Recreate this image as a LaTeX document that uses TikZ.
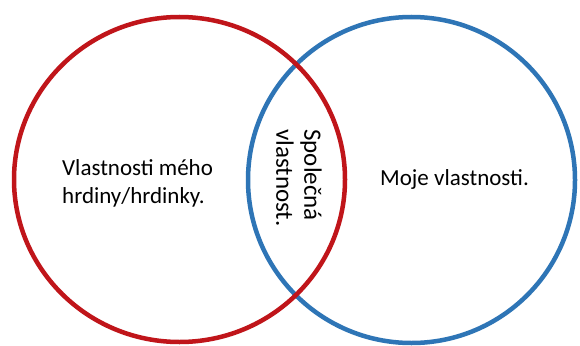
\documentclass[tikz,border=0pt]{standalone}
\usepackage{fontspec}
\setmainfont{Carlito}
\definecolor{vred}{HTML}{C0151A}
\definecolor{vblue}{HTML}{2E75B6}
\begin{document}
\begin{tikzpicture}[x=1pt,y=-1pt,
  ring/.style={line width=4.5pt},
  lbl/.style={font=\fontsize{23}{28}\selectfont, inner sep=0pt, text=black}]
\useasboundingbox (0,0) rectangle (580,345);
\fill[white] (0,0) rectangle (580,345);
\draw[ring, vblue] (411.5,180) ellipse [x radius=163.5, y radius=163];
\draw[ring, vred] (179.5,179.5) ellipse [x radius=165.5, y radius=162.5];
\node[lbl, align=left, anchor=base west] (left) at (62,203) {Vlastnosti mého\\hrdiny/hrdinky.};
\node[lbl, anchor=base west] (right) at (380,185) {Moje vlastnosti.};
\node[lbl, align=left, rotate=-90, anchor=center, font=\fontsize{25}{28}\selectfont] (mid) at (299,178) {Společná\\vlastnost.};
\end{tikzpicture}
\end{document}
